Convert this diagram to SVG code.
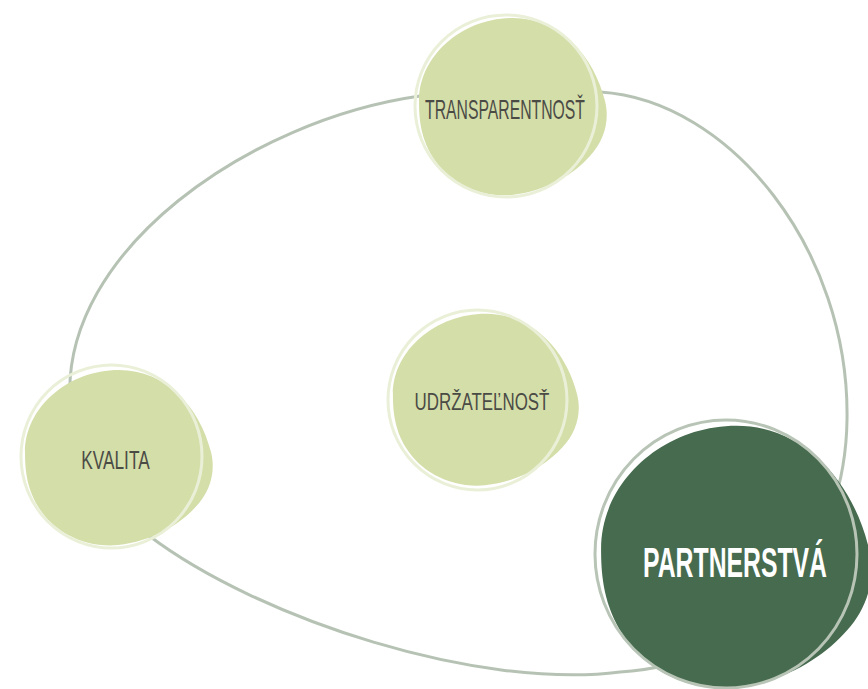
<svg xmlns="http://www.w3.org/2000/svg" width="868" height="689" viewBox="0 0 868 689">
  <defs>
    <path id="blob" d="M 1,-88 C 48,-88 82,-50 93,-5 C 98,15 92,35 78,50 C 62,68 35,85 0,89 C -35,92 -65,75 -80,50 C -92,30 -93,10 -93,-5 C -93,-50 -50,-88 1,-88 Z"/>
  </defs>
  <style>
    .loop { fill: none; stroke: #b6c3b4; stroke-width: 3; }
    .light { fill: #d4dea9; }
    .dark { fill: #476b4f; }
    .ring { fill: none; stroke: #eaf0d8; stroke-width: 3; }
    .ring2 { fill: none; stroke: #b8c5b6; stroke-width: 3; }
    .lbl { font-family: "Liberation Sans", Arial, sans-serif; fill: #4b4b46; text-anchor: middle; }
    .lblw { font-family: "Liberation Sans", Arial, sans-serif; fill: #ffffff; font-weight: bold; text-anchor: middle; }
  </style>
  <rect width="868" height="689" fill="#ffffff"/>
  <g id="connectors">
    <path class="loop" d="M 70,400 C 62,250 250,120 420,96 C 470,89 550,88 600,92 C 730,100 850,250 847,420 C 845,560 750,665 620,672 C 480,690 260,620 148,535 C 100,490 72,440 70,400 Z"/>
  </g>
  <g id="transparentnost">
    <use href="#blob" class="light" transform="translate(512,106)"/>
    <ellipse class="ring" cx="506" cy="106" rx="91" ry="91"/>
    <text class="lbl" transform="scale(0.563,1)" x="897" y="119" font-size="28">TRANSPARENTNOSŤ</text>
  </g>
  <g id="kvalita">
    <use href="#blob" class="light" transform="translate(118,457) scale(1.0,0.99)"/>
    <ellipse class="ring" cx="111.5" cy="456.5" rx="90.5" ry="91.5"/>
    <text class="lbl" transform="scale(0.651,1)" x="177.4" y="469" font-size="26.5">KVALITA</text>
  </g>
  <g id="udrzatelnost">
    <use href="#blob" class="light" transform="translate(485,399) scale(0.99,0.97)"/>
    <ellipse class="ring" cx="477.5" cy="400" rx="89.5" ry="90"/>
    <text class="lbl" transform="scale(0.704,1)" x="684.7" y="410" font-size="24">UDRŽATEĽNOSŤ</text>
  </g>
  <g id="partnerstva">
    <use href="#blob" class="dark" transform="translate(735,556) scale(1.44,1.48)"/>
    <ellipse class="ring2" cx="726" cy="554" rx="131" ry="134"/>
    <text class="lblw" transform="scale(0.59,1)" x="1245.8" y="577" font-size="42">PARTNERSTVÁ</text>
  </g>
</svg>
